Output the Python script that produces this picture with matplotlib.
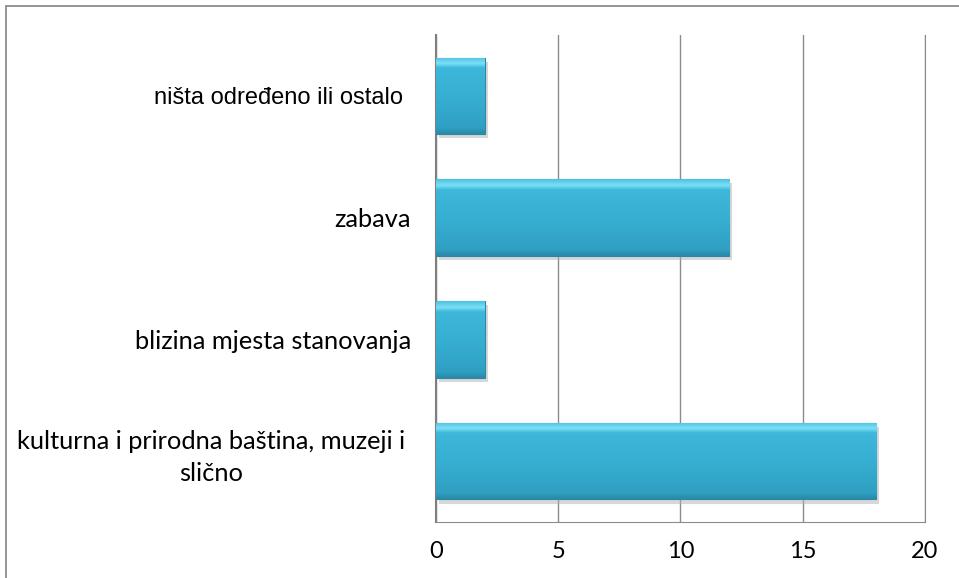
import numpy as np
import matplotlib
matplotlib.use('Agg')
import matplotlib.pyplot as plt
import matplotlib.patheffects as pe
import matplotlib.transforms as mtransforms
from matplotlib.patches import Rectangle
from matplotlib.colors import LinearSegmentedColormap

# podaci
kategorije = ['kulturna i prirodna baština, muzeji i\nslično',
              'blizina mjesta stanovanja',
              'zabava',
              'ništa određeno ili ostalo']
vrijednosti = [18, 2, 12, 2]
x_oznake = [0, 5, 10, 15, 20]

fig = plt.figure(figsize=(9.59, 5.78), dpi=100)
ax = fig.add_axes([0.4546, 0.0969, 0.5099, 0.8425])

# vanjski okvir
fig.patches.append(Rectangle((6 / 959, -0.1), 1.2, 1 - 6 / 578 + 0.1,
                             transform=fig.transFigure, fill=False,
                             edgecolor='#8c8c8c', linewidth=1.3))

# gradijent za "3D" izgled stupaca (odozdo prema gore)
cmap = LinearSegmentedColormap.from_list('bevel', [
    (0.0, '#2a89a8'), (0.08, '#2f9fc2'), (0.5, '#37afd3'),
    (0.86, '#3db7da'), (0.92, '#7ce0f7'), (1.0, '#4cc0e0')])
grad = np.linspace(0, 1, 256).reshape(-1, 1)

y = np.arange(len(kategorije))
bars = ax.barh(y, vrijednosti, height=0.63, color='#35acd0',
               edgecolor='#2a87a5', linewidth=0.8, zorder=3)
for b in bars:
    b.set_path_effects([pe.SimplePatchShadow(offset=(2, -3), shadow_rgbFace='#b0b0b0', alpha=0.5),
                        pe.Normal()])
    im = ax.imshow(grad, cmap=cmap, origin='lower', aspect='auto', zorder=4,
                   extent=(b.get_x(), b.get_x() + b.get_width(),
                           b.get_y(), b.get_y() + b.get_height()))
    im.set_clip_path(b)

ax.set_xlim(0, 20)
ax.set_ylim(-0.5, len(kategorije) - 0.5)
ax.set_xticks(x_oznake)
ax.set_xticklabels([str(v) for v in x_oznake], fontsize=17, family='Lato')
ax.tick_params(axis='x', length=0, pad=14)
ax.tick_params(axis='y', length=0, pad=18)
ax.set_yticks(y)
lbls = ax.set_yticklabels(kategorije, fontsize=18.3, family='Lato', multialignment='center',
                          linespacing=1.45)
lbls[-1].set_fontsize(17)
lbls[-1].set_family('Liberation Sans')
lbls[-1].set_x(-0.016)
# dvoredni natpis malo više
lbls[0].set_transform(lbls[0].get_transform() +
                      mtransforms.ScaledTranslation(-0.06, 0.1, fig.dpi_scale_trans))

ax.grid(axis='x', color='#8c8c8c', linewidth=1.0, zorder=0)
ax.spines['top'].set_visible(False)
ax.spines['left'].set_color('#7f7f7f')
ax.spines['left'].set_linewidth(1.5)
ax.spines['bottom'].set_color('#8c8c8c')
ax.spines['right'].set_color('#8c8c8c')

plt.savefig('out.png', dpi=100)
